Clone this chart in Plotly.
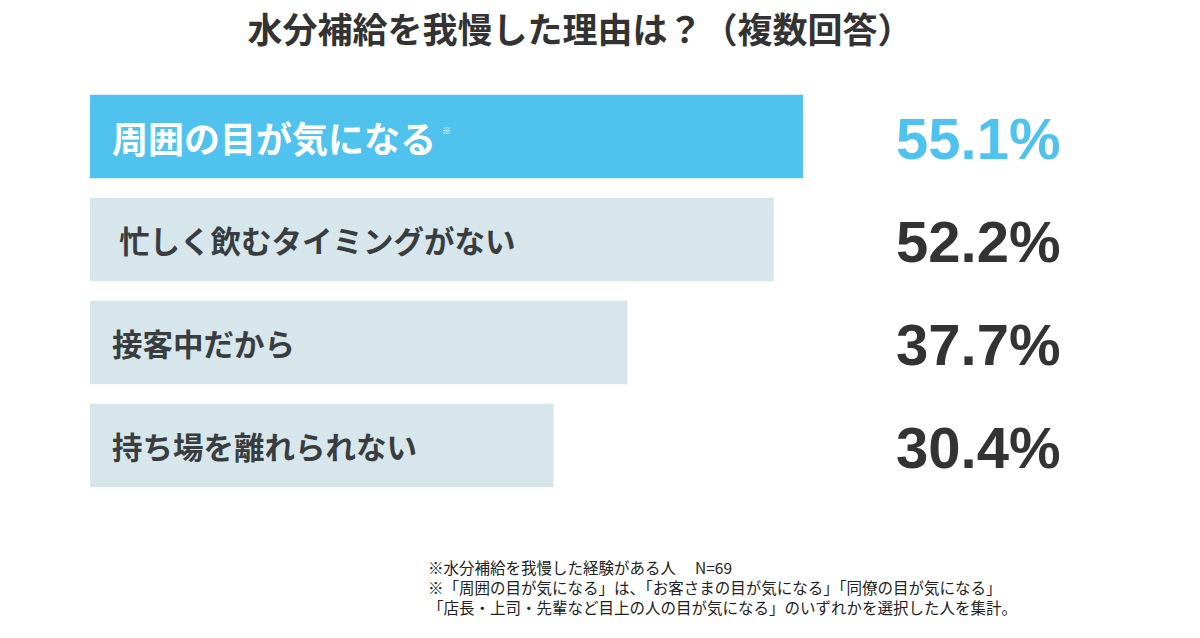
import plotly.graph_objects as go

# ---- data ----
categories = ["周囲の目が気になる", " 忙しく飲むタイミングがない", "接客中だから", "持ち場を離れられない"]
values = [55.1, 52.2, 37.7, 30.4]
value_labels = ["55.1%", "52.2%", "37.7%", "30.4%"]
title_text = "水分補給を我慢した理由は？（複数回答）"
footnotes = [
    "※水分補給を我慢した経験がある人　 N=69",
    "※「周囲の目が気になる」は、「お客さまの目が気になる」「同僚の目が気になる」",
    "「店長・上司・先輩など目上の人の目が気になる」のいずれかを選択した人を集計。",
]

# ---- styling / layout ----
W, H = 1200, 638
PL, PR, PT, PB = 90, 1090, 85, 497      # plot area in px
X0 = -15.5                              # axis start (bars begin at left edge)
X1 = X0 + (PR - PL) / 10.1
HIGHLIGHT = "#4FC3EE"
OTHER = "#D6E6EB"
DARK = "#333333"
JP = "Noto Sans CJK JP"
NUM = "Liberation Sans, Arial"

bar_colors = [HIGHLIGHT] + [OTHER] * (len(values) - 1)
label_colors = ["#FFFFFF"] + ["#3a3d40"] * (len(values) - 1)
label_sizes = [36] + [30.5] * (len(values) - 1)
pct_colors = [HIGHLIGHT] + [DARK] * (len(values) - 1)


def px_x(p):
    return (p - PL) / (PR - PL)


def px_y(p):
    return (PB - p) / (PB - PT)


fig = go.Figure()
fig.add_trace(go.Bar(
    y=categories,
    x=[v - X0 for v in values],
    base=X0,
    orientation="h",
    width=0.81,
    marker=dict(color=bar_colors, line=dict(width=0)),
    hoverinfo="skip",
))

annotations = []
for i, cat in enumerate(categories):
    annotations.append(dict(
        x=X0, y=cat, xref="x", yref="y", xanchor="left", yanchor="middle",
        xshift=20, text=f"<b>{cat}</b>", showarrow=False,
        font=dict(family=JP, size=label_sizes[i], color=label_colors[i]),
    ))
    annotations.append(dict(
        x=px_x(1062), y=cat, xref="paper", yref="y", xanchor="right", yanchor="middle",
        yshift=-2, text=f"<b>{value_labels[i]}</b>", showarrow=False,
        font=dict(family=NUM, size=58, color=pct_colors[i]),
    ))

# small reference mark after the highlighted label
annotations.append(dict(
    x=X0, y=categories[0], xref="x", yref="y", xanchor="left", yanchor="middle",
    xshift=350, yshift=6, text="※", showarrow=False,
    font=dict(family=JP, size=9, color="#FFFFFF"),
))

annotations.append(dict(
    x=px_x(426), y=px_y(587), xref="paper", yref="paper",
    xanchor="left", yanchor="middle", align="left", text="<br>".join(footnotes),
    showarrow=False, font=dict(family=JP, size=15.5, color="#222222"),
))

fig.update_layout(
    width=W, height=H,
    margin=dict(l=PL, r=W - PR, t=PT, b=H - PB, pad=0),
    paper_bgcolor="white", plot_bgcolor="white",
    showlegend=False,
    title=dict(
        text=f"<b>{title_text}</b>", x=580 / W, xanchor="center",
        y=1 - 31 / H, yanchor="middle", xref="container", yref="container",
        font=dict(family=JP, size=35, color=DARK),
    ),
    xaxis=dict(range=[X0, X1], visible=False, fixedrange=True),
    yaxis=dict(range=[len(categories) - 0.5, -0.5], visible=False, fixedrange=True),
    annotations=annotations,
)

fig.write_html("out.html")
